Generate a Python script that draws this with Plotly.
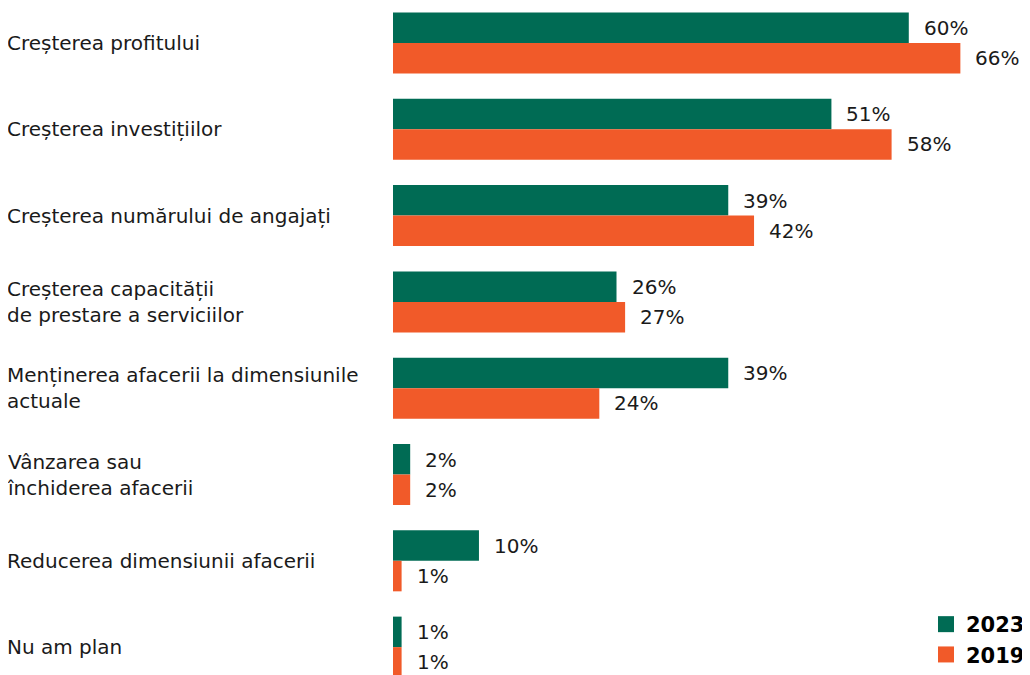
import plotly.graph_objects as go

categories = [
    "Creșterea profitului",
    "Creșterea investițiilor",
    "Creșterea numărului de angajați",
    "Creșterea capacității<br>de prestare a serviciilor",
    "Menținerea afacerii la dimensiunile<br>actuale",
    "Vânzarea sau<br>închiderea afacerii",
    "Reducerea dimensiunii afacerii",
    "Nu am plan",
]
values_2023 = [60, 51, 39, 26, 39, 2, 10, 1]
values_2019 = [66, 58, 42, 27, 24, 2, 1, 1]

GREEN = "#006B54"
ORANGE = "#F15A29"
FONT = "DejaVu Sans"
TXT = "#1a1a1a"

fig = go.Figure()
fig.add_trace(go.Bar(y=categories, x=values_2023, orientation="h", name="2023",
                     marker=dict(color=GREEN, line=dict(width=0)), showlegend=False))
fig.add_trace(go.Bar(y=categories, x=values_2019, orientation="h", name="2019",
                     marker=dict(color=ORANGE, line=dict(width=0)), showlegend=False))

# legend-only entries with bigger square swatches
for name, col in (("2023", GREEN), ("2019", ORANGE)):
    fig.add_trace(go.Scatter(x=[None], y=[None], mode="markers", name=name,
                             marker=dict(symbol="square", size=16, color=col)))

annotations = []
for cat in categories:
    annotations.append(dict(x=-0.6091, xref="paper", y=cat, yref="y", text=cat,
                            xanchor="left", yanchor="middle", align="left", showarrow=False,
                            font=dict(family=FONT, size=20, color=TXT)))
for vals, shift in ((values_2023, 15), (values_2019, -15)):
    for cat, v in zip(categories, vals):
        annotations.append(dict(x=v, y=cat, xref="x", yref="y", text=f"{v}%",
                                xanchor="left", yanchor="middle", xshift=13, yshift=shift,
                                showarrow=False, font=dict(family=FONT, size=20, color=TXT)))

# page body has an 8px margin, so the figure is sized 8px smaller
fig.update_layout(
    width=1022, height=667,
    margin=dict(l=385, r=0, t=0, b=0),
    paper_bgcolor="white", plot_bgcolor="white",
    barmode="group", bargap=0.293, bargroupgap=0,
    showlegend=True,
    legend=dict(x=1, xanchor="right", y=0, yanchor="bottom", traceorder="normal",
                font=dict(family=FONT, size=21, color="#000000", weight="bold"),
                itemsizing="trace", itemwidth=30),
    xaxis=dict(range=[0, 74.1], visible=False),
    yaxis=dict(range=[7.323, -0.4056], showticklabels=False, showgrid=False, zeroline=False),
    annotations=annotations,
)

fig.write_html("out.html")
